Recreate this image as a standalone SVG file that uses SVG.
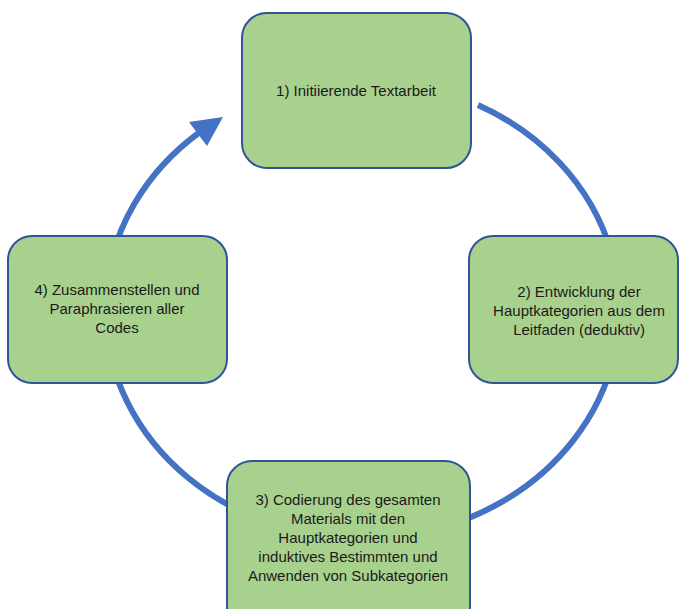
<svg xmlns="http://www.w3.org/2000/svg" width="679" height="609" viewBox="0 0 679 609">
<style>
.box{fill:#A9D18E;stroke:#2F5597;stroke-width:2}
.lbl{font-family:"Liberation Sans",Arial,sans-serif;font-size:15px;fill:#1a1a1a;text-anchor:middle}
.cyc{fill:none;stroke:#4472C4;stroke-width:6}
</style>
<rect width="679" height="609" fill="#ffffff"/>
<g id="connectors">
<path class="cyc" d="M 478 105 A 257 229 0 1 1 200 132"/>
<polygon points="223,117 189,122 207,146" fill="#4472C4"/>
</g>
<g id="node1">
<rect class="box" x="242" y="13" width="229" height="155" rx="25"/>
<text class="lbl" x="356" y="96">1) Initiierende Textarbeit</text>
</g>
<g id="node2">
<rect class="box" x="469" y="236" width="209" height="147" rx="24"/>
<text class="lbl" x="579" y="297">2) Entwicklung der</text>
<text class="lbl" x="579" y="316">Hauptkategorien aus dem</text>
<text class="lbl" x="579" y="335">Leitfaden (deduktiv)</text>
</g>
<g id="node3">
<rect class="box" x="227" y="461" width="243" height="170" rx="25"/>
<text class="lbl" x="348" y="505">3) Codierung des gesamten</text>
<text class="lbl" x="348" y="524">Materials mit den</text>
<text class="lbl" x="348" y="543">Hauptkategorien und</text>
<text class="lbl" x="348" y="562">induktives Bestimmten und</text>
<text class="lbl" x="348" y="581">Anwenden von Subkategorien</text>
</g>
<g id="node4">
<rect class="box" x="8" y="236" width="219" height="147" rx="24"/>
<text class="lbl" x="117" y="295">4) Zusammenstellen und</text>
<text class="lbl" x="117" y="314">Paraphrasieren aller</text>
<text class="lbl" x="117" y="333">Codes</text>
</g>
</svg>
